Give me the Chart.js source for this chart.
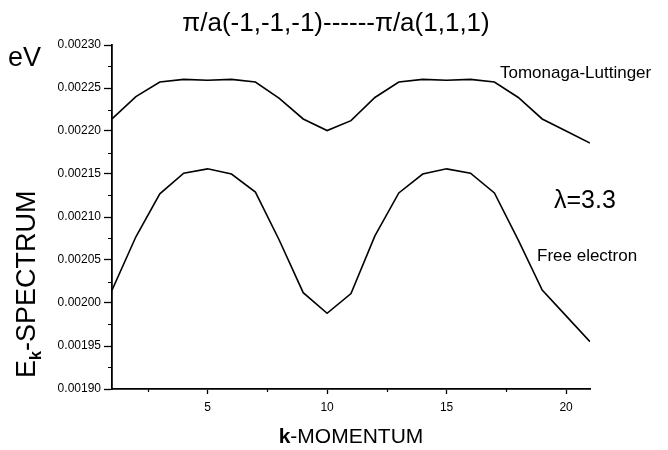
<!DOCTYPE html>
<html>
<head>
<meta charset="utf-8">
<script src="https://cdn.jsdelivr.net/npm/chart.js@4.4.0/dist/chart.umd.min.js"></script>
<style>
  html, body { margin: 0; padding: 0; background: #fff; }
  #wrap { width: 668px; height: 450px; }
</style>
</head>
<body>
<div id="wrap"><canvas id="spectrum" width="668" height="450"></canvas></div>
<script>
// k points along pi/a(-1,-1,-1) -> pi/a(1,1,1)
const kValues = [1, 2, 3, 4, 5, 6, 7, 8, 9, 10, 11, 12, 13, 14, 15, 16, 17, 18, 19, 20, 21];

// Tomonaga-Luttinger band (eV)
const tlValues = [0.002214, 0.002240, 0.002257, 0.002260, 0.002259, 0.002260, 0.002257,
  0.002238, 0.002214, 0.0022005, 0.002212, 0.002239, 0.002257, 0.002260, 0.002259,
  0.002260, 0.002257, 0.002239, 0.002214, 0.002200, 0.002186];

// Free electron band (eV)
const feValues = [0.002015, 0.002077, 0.002127, 0.002151, 0.002156, 0.002150, 0.002129,
  0.002073, 0.002012, 0.001988, 0.002011, 0.002078, 0.002128, 0.002150, 0.002156,
  0.002151, 0.002128, 0.002073, 0.002015, 0.001985, 0.001955];

const xTickValues = [5, 10, 15, 20];
const xMinorTicks = [2.5, 7.5, 12.5, 17.5];
const yTickLabels = ['0.00190', '0.00195', '0.00200', '0.00205', '0.00210',
  '0.00215', '0.00220', '0.00225', '0.00230'];
const yMinorTicks = [0.001925, 0.001975, 0.002025, 0.002075, 0.002125, 0.002175, 0.002225, 0.002275];

const FONT = '"Liberation Sans", Arial, Helvetica, sans-serif';

function toPoints(vals) {
  return kValues.map((k, i) => ({ x: k, y: vals[i] }));
}

// minor ticks, title and the free text labels
const decorations = {
  id: 'decorations',
  afterDraw(chart) {
    const ctx = chart.ctx;
    const xs = chart.scales.x, ys = chart.scales.y;
    const area = chart.chartArea;
    ctx.save();
    ctx.strokeStyle = '#000';
    ctx.lineWidth = 1.2;
    ctx.beginPath();
    xMinorTicks.forEach(v => {
      const px = Math.round(xs.getPixelForValue(v)) + 0.5;
      ctx.moveTo(px, area.bottom);
      ctx.lineTo(px, area.bottom + 3);
    });
    yMinorTicks.forEach(v => {
      const py = Math.round(ys.getPixelForValue(v)) + 0.5;
      ctx.moveTo(area.left, py);
      ctx.lineTo(area.left - 4, py);
    });
    ctx.stroke();

    ctx.fillStyle = '#000';
    ctx.textBaseline = 'alphabetic';

    // title
    ctx.font = '26px ' + FONT;
    ctx.textAlign = 'center';
    ctx.fillText('\u03c0/a(-1,-1,-1)------\u03c0/a(1,1,1)', 336, 31);

    // unit
    ctx.font = '27px ' + FONT;
    ctx.textAlign = 'left';
    ctx.fillText('eV', 8, 66);

    // annotations
    ctx.font = '17px ' + FONT;
    ctx.fillText('Tomonaga-Luttinger', 500, 78);
    ctx.fillText('Free electron', 537, 261);
    ctx.font = '25px ' + FONT;
    ctx.fillText('\u03bb=3.3', 554, 208);

    // x axis title: bold k + -MOMENTUM
    const xc = (area.left + area.right) / 2;
    ctx.font = 'bold 21px ' + FONT;
    const kW = ctx.measureText('k').width;
    ctx.font = '21px ' + FONT;
    const restW = ctx.measureText('-MOMENTUM').width;
    let x0 = xc - (kW + restW) / 2;
    ctx.font = 'bold 21px ' + FONT;
    ctx.fillText('k', x0, 443);
    ctx.font = '21px ' + FONT;
    ctx.fillText('-MOMENTUM', x0 + kW, 443);

    // y axis title: E_k-SPECTRUM, rotated
    ctx.translate(35, 378);
    ctx.rotate(-Math.PI / 2);
    ctx.font = '27px ' + FONT;
    ctx.fillText('E', 0, 0);
    const eW = ctx.measureText('E').width;
    ctx.font = 'bold 16px ' + FONT;
    ctx.fillText('k', eW, 6);
    const subW = ctx.measureText('k').width;
    ctx.font = '27px ' + FONT;
    ctx.fillText('-SPECTRUM', eW + subW, 0);
    ctx.restore();
  }
};

const config = {
  type: 'line',
  data: {
    datasets: [
      {
        label: 'Tomonaga-Luttinger',
        data: toPoints(tlValues),
        borderColor: '#000',
        borderWidth: 1.6,
        pointRadius: 0,
        tension: 0,
        fill: false
      },
      {
        label: 'Free electron',
        data: toPoints(feValues),
        borderColor: '#000',
        borderWidth: 1.6,
        pointRadius: 0,
        tension: 0,
        fill: false
      }
    ]
  },
  options: {
    responsive: false,
    animation: false,
    events: [],
    layout: { padding: { top: 45, right: 78, left: 0, bottom: 0 } },
    plugins: {
      legend: { display: false },
      title: { display: false },
      tooltip: { enabled: false }
    },
    scales: {
      x: {
        type: 'linear',
        min: 1,
        max: 21,
        afterBuildTicks: s => { s.ticks = xTickValues.map(v => ({ value: v })); },
        afterFit: s => { s.height = 61; },
        ticks: {
          color: '#000',
          font: { family: FONT, size: 12 },
          padding: 6,
          maxRotation: 0,
          autoSkip: false,
          callback: v => String(v)
        },
        grid: { drawOnChartArea: false, tickLength: 5, tickColor: '#000', tickWidth: 1.3 },
        border: { color: '#000', width: 1.8 }
      },
      y: {
        min: 0.0019,
        max: 0.0023,
        afterBuildTicks: s => { s.ticks = yTickLabels.map(t => ({ value: parseFloat(t) })); },
        afterFit: s => { s.width = 112; },
        ticks: {
          color: '#000',
          font: { family: FONT, size: 12 },
          padding: 3,
          autoSkip: false,
          callback: v => v.toFixed(5)
        },
        grid: { drawOnChartArea: false, tickLength: 8, tickColor: '#000', tickWidth: 1.3 },
        border: { color: '#000', width: 1.8 }
      }
    }
  },
  plugins: [decorations]
};

new Chart(document.getElementById('spectrum'), config);
</script>
</body>
</html>
